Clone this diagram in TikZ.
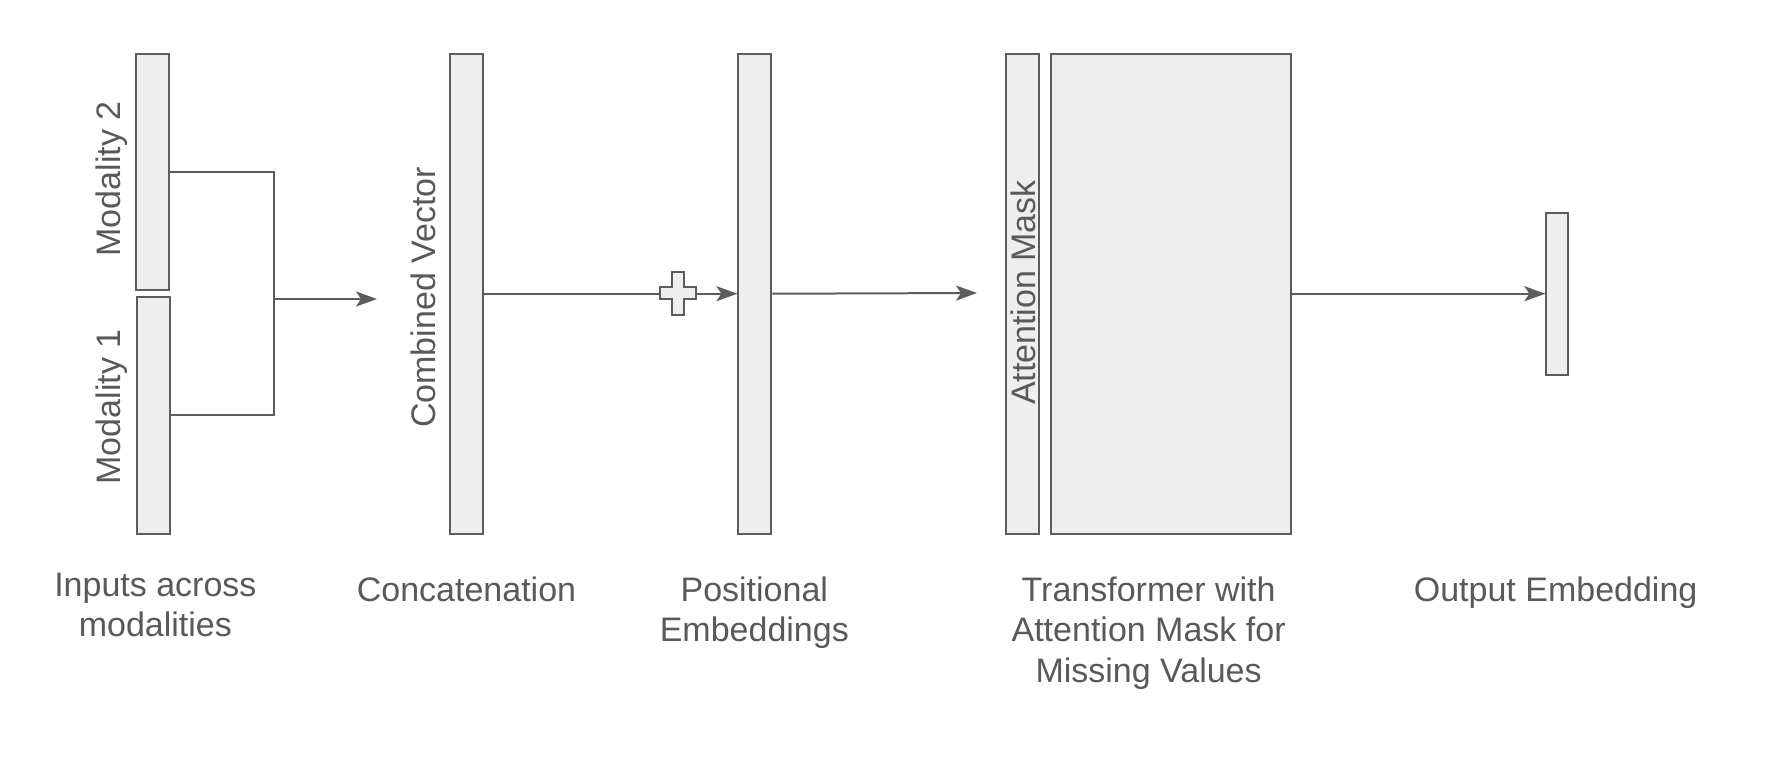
\documentclass[tikz,border=0pt]{standalone}
\usepackage{fontspec}
\setmainfont{Liberation Sans}
\usetikzlibrary{arrows.meta}
\definecolor{ink}{HTML}{5C5C5C}
\definecolor{txt}{HTML}{595959}
\definecolor{boxfill}{HTML}{EEEEEE}
\begin{document}
\begin{tikzpicture}[x=0.5pt,y=-0.5pt,
  vec/.style={draw=ink, fill=boxfill, line width=1pt, rectangle, inner sep=0pt, minimum width=16.5pt},
  link/.style={draw=ink, line width=1pt},
  flow/.style={link, -{Stealth[length=10.5pt,width=7.5pt,inset=2.5pt]}},
  vlabel/.style={text=txt, font=\fontsize{17}{20}\selectfont, rotate=90, anchor=base, inner sep=0pt},
  caption/.style={text=txt, font=\fontsize{17}{20.25}\selectfont, align=center, inner sep=0pt, anchor=base},
]
\useasboundingbox (0,0) rectangle (1792,768);

% vectors
\node[vec, minimum height=118.3pt] (m2) at (152.5,172) {};
\node[vec, minimum height=118.3pt] (m1) at (153.5,415.3) {};
\node[vec, minimum height=240pt] (cat) at (466.9,293.7) {};
\node[vec, minimum height=240pt] (pos) at (754.9,293.7) {};
\node[vec, minimum height=240pt] (mask) at (1022.3,293.7) {};
\node[vec, minimum height=240pt, minimum width=120pt] (tf) at (1171.4,293.7) {};
\node[vec, minimum height=81pt, minimum width=10.85pt] (out) at (1557.2,293.7) {};

% vertical labels
\node[vlabel] (m2lab) at (120,179) {Modality 2};
\node[vlabel] (m1lab) at (120,407) {Modality 1};
\node[vlabel] (catlab) at (435,297.5) {Combined Vector};
\node[vlabel] (masklab) at (1035,292.5) {Attention Mask};

% connectors
\coordinate (join) at (274,299);
\coordinate (catin) at (377,299);
\coordinate (maskin) at (977,293);
\coordinate (plus) at (678,293);
\draw[link] (m2.east) -| (join) |- (m1.east);
\draw[flow] (join) -- (catin);
\draw[flow] (cat.east) -- (pos.west);
\draw[flow] (pos.east) -- (maskin);
\draw[flow] (tf.east) -- (out.west);

% addition sign
\draw[link, fill=boxfill] (plus) ++(-5.8,-21.5) -- ++(11.6,0) -- ++(0,15.7) -- ++(12.2,0)
  -- ++(0,11.6) -- ++(-12.2,0) -- ++(0,15.7) -- ++(-11.6,0) -- ++(0,-15.7)
  -- ++(-12.2,0) -- ++(0,-11.6) -- ++(12.2,0) -- cycle;

% captions (anchored at the baseline of their last line)
\node[caption] (c1) at (155.4,636.7) {Inputs across\\modalities};
\node[caption] (c2) at (466.5,601.7) {Concatenation};
\node[caption] (c3) at (754.3,641.7) {Positional\\Embeddings};
\node[caption] (c4) at (1148.6,682) {Transformer with\\Attention Mask for\\Missing Values};
\node[caption] (c5) at (1555.6,601.7) {Output Embedding};
\end{tikzpicture}
\end{document}
